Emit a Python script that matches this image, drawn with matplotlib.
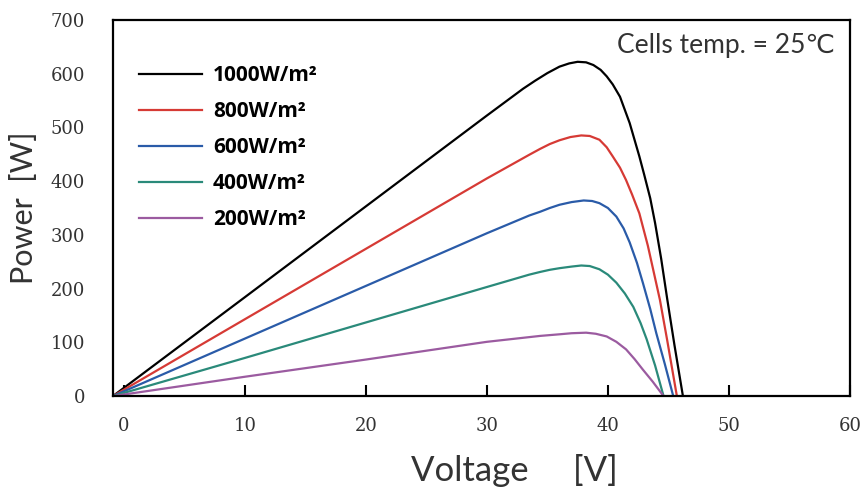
import matplotlib
matplotlib.use("Agg")
import matplotlib.pyplot as plt

# P-V curves (voltage [V], power [W])
v_1000 = [-0.9, 10, 20, 30, 33.0, 34.0, 35.0, 36.0, 36.8, 37.5, 38.2, 38.8, 39.4, 39.9,
          40.4, 41.0, 41.8, 42.6, 43.0, 43.5, 43.9, 44.4, 44.9, 45.5, 46.2]
p_1000 = [0, 184, 353, 522, 572, 587, 601, 613, 619, 622, 621, 616, 607, 595,
          580, 557, 508, 446, 412, 368, 322, 256, 181, 95, 0]

v_800 = [-0.9, 10, 20, 30, 33.5, 34.4, 35.2, 36.0, 36.9, 37.8, 38.5, 39.3, 39.9, 40.4,
         41.0, 41.5, 42.0, 42.6, 43.3, 44.3, 44.9, 45.7]
p_800 = [0, 143, 274, 405, 449, 460, 469, 476, 482, 485, 484, 477, 463, 446,
         425, 402, 375, 340, 280, 179, 104, 0]

v_600 = [-0.9, 10, 20, 30, 33.5, 34.4, 35.2, 36.0, 37.0, 38.0, 38.7, 39.3, 40.0, 40.7,
         41.3, 41.8, 42.4, 42.9, 43.5, 44.0, 44.7, 45.4]
p_600 = [0, 107, 205, 303, 336, 343, 350, 356, 361, 364, 363, 359, 350, 334,
         312, 286, 248, 210, 162, 117, 60, 0]

v_400 = [-0.9, 10, 20, 30, 33.5, 34.4, 35.2, 36.0, 37.0, 37.8, 38.5, 39.3, 40.0, 40.7,
         41.4, 42.1, 42.7, 43.2, 43.9, 44.6]
p_400 = [0, 71, 137, 203, 226, 231, 235, 238, 241, 243, 242, 236, 226, 211,
         191, 166, 136, 106, 57, 0]

v_200 = [-0.9, 10, 20, 30, 34.4, 36.0, 37.0, 38.2, 39.0, 39.9, 40.7, 41.5, 42.2, 42.9,
         43.7, 44.6]
p_200 = [0, 36, 68, 101, 112, 115, 117, 118, 116, 111, 101, 87, 69, 49, 27, 0]

labels = ["1000W/m²", "800W/m²", "600W/m²", "400W/m²", "200W/m²"]
colors = ["#000000", "#d63a35", "#2a5ba8", "#2a8a7a", "#9b5ba0"]
series = [(v_1000, p_1000), (v_800, p_800), (v_600, p_600), (v_400, p_400), (v_200, p_200)]

x_ticks = [0, 10, 20, 30, 40, 50, 60]
y_ticks = [0, 100, 200, 300, 400, 500, 600, 700]

fig = plt.figure(figsize=(8.62, 4.97), dpi=100)
ax = fig.add_axes([0.131, 0.203, 0.855, 0.757])

for (v, p), lab, col in zip(series, labels, colors):
    ax.plot(v, p, color=col, lw=1.6, label=lab, solid_joinstyle="round")

ax.set_xlim(-0.9, 60)
ax.set_ylim(0, 700)
ax.set_xticks(x_ticks)
ax.set_yticks(y_ticks)

tick_font = dict(family="DejaVu Serif", size=13, color="#333333")
ax.set_xticklabels([str(t) for t in x_ticks], **tick_font)
ax.set_yticklabels([str(t) for t in y_ticks], **tick_font)
ax.tick_params(axis="x", direction="in", length=8, width=1.5, pad=15)
ax.tick_params(axis="y", length=0, pad=20)

for s in ax.spines.values():
    s.set_linewidth(1.6)

lab_font = ["Lato", "DejaVu Sans"]
ax.set_xlabel("Voltage     [V]", family=lab_font, fontsize=25, color="#333333", va="center")
ax.xaxis.set_label_coords(0.545, -0.197)
ax.set_ylabel("Power  [W]", family=lab_font, fontsize=22, color="#333333", va="center")
ax.yaxis.set_label_coords(-0.12, 0.5)

ax.text(0.98, 0.965, "Cells temp. = 25℃", transform=ax.transAxes, ha="right", va="top",
        family=lab_font, fontsize=19, color="#333333")

leg = ax.legend(loc="upper left", bbox_to_anchor=(0.01, 0.93), frameon=False,
                handlelength=3.0, handletextpad=0.55, labelspacing=0.72,
                prop=dict(family=["Open Sans", "DejaVu Sans"], weight="bold", size=15))

fig.savefig("out.png", dpi=100)
